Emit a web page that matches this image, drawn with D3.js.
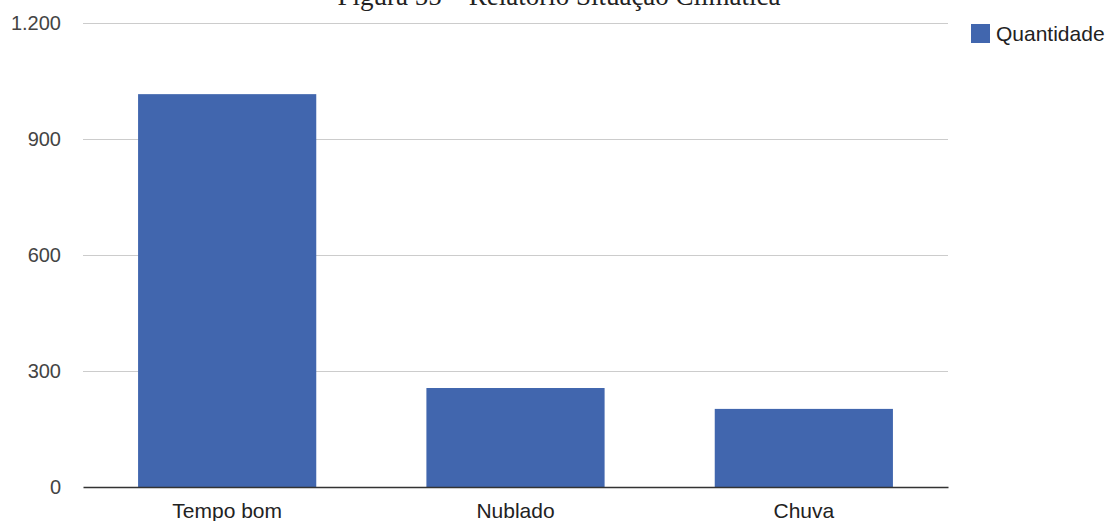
<!DOCTYPE html>
<html>
<head>
<meta charset="utf-8">
<script src="https://cdn.jsdelivr.net/npm/d3@7"></script>
<style>
  body { margin: 0; background: #fff; }
  svg { display: block; }
  .tick text { font-family: "Liberation Sans", Arial, sans-serif; }
</style>
</head>
<body>
<div id="chart"></div>
<script>
var categories = ["Tempo bom", "Nublado", "Chuva"];
var quantidade = [1016, 256, 202];
var yTicks = [0, 300, 600, 900, 1200];
var seriesName = "Quantidade";
var titleText = "Figura 55 \u2013 Relat\u00f3rio Situa\u00e7\u00e3o Clim\u00e1tica";

var W = 1110, H = 521;
var margin = {top: 23, right: 162, bottom: 34, left: 83},
    width = W - margin.left - margin.right,
    height = H - margin.top - margin.bottom;

var barColor = "#4166ae";
var fmt = function (d) { return d3.format(",")(d).replace(/,/g, "."); };

var svg = d3.select("#chart").append("svg")
    .attr("width", W)
    .attr("height", H);

// title, mostly cut off at the top like the source
svg.append("text")
    .attr("x", 559)
    .attr("y", 5)
    .attr("text-anchor", "middle")
    .style("font-family", "'Liberation Serif', 'Times New Roman', serif")
    .style("font-size", "27px")
    .style("fill", "#222")
    .text(titleText);

var g = svg.append("g")
    .attr("transform", "translate(" + margin.left + "," + margin.top + ")");

var x = d3.scaleBand()
    .domain(categories)
    .range([0, width])
    .paddingInner(0.382)
    .paddingOuter(0.191);

var y = d3.scaleLinear()
    .domain([0, 1200])
    .range([height, 0]);

// grid lines
g.append("g")
    .selectAll("line")
    .data(yTicks.filter(function (d) { return d > 0; }))
    .enter().append("line")
    .attr("x1", 0)
    .attr("x2", width)
    .attr("y1", function (d) { return y(d) + 0.5; })
    .attr("y2", function (d) { return y(d) + 0.5; })
    .attr("stroke", "#cccccc")
    .attr("stroke-width", 1);

// y labels
var yAxis = g.append("g")
    .call(d3.axisLeft(y).tickValues(yTicks).tickFormat(fmt).tickSize(0).tickPadding(22));
yAxis.select(".domain").remove();
yAxis.selectAll("text")
    .style("font-size", "20px")
    .style("fill", "#444");

// bars
g.selectAll(".bar")
    .data(categories)
    .enter().append("rect")
    .attr("class", "bar")
    .attr("x", function (d) { return x(d); })
    .attr("width", x.bandwidth())
    .attr("y", function (d, i) { return y(quantidade[i]); })
    .attr("height", function (d, i) { return height - y(quantidade[i]); })
    .attr("fill", barColor);

// baseline + x labels
var xAxis = g.append("g")
    .attr("transform", "translate(0," + height + ")")
    .call(d3.axisBottom(x).tickSize(0).tickPadding(16));
xAxis.select(".domain")
    .attr("stroke", "#333")
    .attr("stroke-width", 1.5);
xAxis.selectAll("text")
    .style("font-size", "21px")
    .style("fill", "#222");

// legend
var legend = svg.append("g")
    .attr("transform", "translate(971,24)");
legend.append("rect")
    .attr("width", 19)
    .attr("height", 19)
    .attr("fill", barColor);
legend.append("text")
    .attr("x", 25)
    .attr("y", 17)
    .style("font-family", "'Liberation Sans', Arial, sans-serif")
    .style("font-size", "21px")
    .style("fill", "#222")
    .text(seriesName);
</script>
</body>
</html>
